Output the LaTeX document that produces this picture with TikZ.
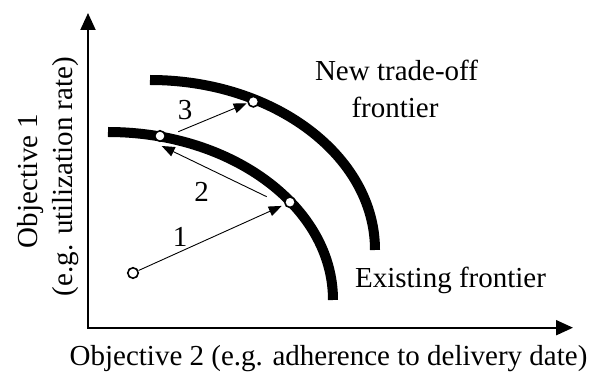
\documentclass[tikz,border=0pt]{standalone}
\usepackage{fontspec}
\setmainfont{Liberation Serif}
\usetikzlibrary{arrows.meta}
\begin{document}
\begin{tikzpicture}[x=1pt,y=1pt,
  lbl/.style={font=\fontsize{29}{35}\selectfont, inner sep=0pt},
  frontier/.style={line width=10pt},
  pt/.style={circle, draw, fill=white, line width=1.6pt, minimum size=10.5pt, inner sep=0pt},
  mv/.style={line width=0.9pt, -{Triangle[length=13pt,width=10pt]}},
  axis/.style={line width=2pt, {Triangle[length=17pt,width=15pt]}-{Triangle[length=17pt,width=15pt]}}]
\useasboundingbox (0,0) rectangle (592,372);
% axes
\coordinate (O) at (88,44.3);
\coordinate (ytip) at (88,359);
\coordinate (xtip) at (573,44.3);
\draw[axis] (ytip) -- (O) -- (xtip);
% frontiers
\draw[frontier] (108,240) arc[start angle=90,end angle=0,x radius=225pt,y radius=168pt];
\draw[frontier] (150,292) arc[start angle=90,end angle=0,x radius=225pt,y radius=170pt];
% points
\node[pt] (s) at (133,99) {};
\node[pt] (P1) at (290,169.8) {};
\node[pt] (P2) at (160,236) {};
\node[pt] (P3) at (253.3,270.3) {};
\coordinate (a2) at (266.7,175.3);
\coordinate (t2) at (161.7,226);
\coordinate (a3) at (178.3,240.3);
\coordinate (t3) at (246.7,268.7);
% moves
\draw[mv, shorten >=3pt] (s) -- (P1);
\draw[mv] (a2) -- (t2);
\draw[mv] (a3) -- (t3);
\node[lbl, anchor=base] (n1) at (180,125.3) {1};
\node[lbl, anchor=base] (n2) at (201.7,170.3) {2};
\node[lbl, anchor=base] (n3) at (185,252) {3};
% labels
\node[lbl, anchor=base] (newf1) at (396.5,291) {New trade-off};
\node[lbl, anchor=base] (newf2) at (395,254) {frontier};
\node[lbl, anchor=base] (exf) at (450.5,84) {Existing frontier};
\node[lbl, anchor=base] (xlab) at (328.5,6) {Objective 2 (e.g. adherence to delivery date)};
\node[lbl, anchor=base, rotate=90] (ylab1) at (37,191) {Objective 1};
\node[lbl, anchor=base, rotate=90] (ylab2) at (72,195.5) {(e.g. utilization rate)};
\end{tikzpicture}
\end{document}
